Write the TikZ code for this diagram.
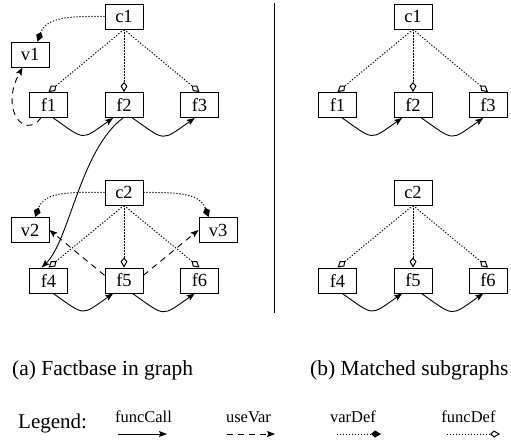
\documentclass[tikz,border=0pt]{standalone}
\usepackage{fontspec}
\setmainfont{Liberation Serif}
\usetikzlibrary{arrows.meta}
\begin{document}
\begin{tikzpicture}[x=1pt,y=1pt,
  box/.style={draw, line width=0.9pt, minimum width=38pt, minimum height=25pt,
    inner sep=0pt, font=\fontsize{18.5}{20}\selectfont},
  funccall/.style={line width=0.9pt, -{Stealth[length=8pt,width=6pt,inset=1.5pt]}},
  usevar/.style={line width=0.9pt, dash pattern=on 6pt off 5pt,
    -{Stealth[length=8pt,width=6pt,inset=1.5pt]}},
  vardef/.style={line width=1pt, dash pattern=on 1.2pt off 1.8pt,
    -{Kite[length=10pt,width=7pt,inset=4pt]}},
  funcdef/.style={line width=1pt, dash pattern=on 1.2pt off 1.8pt,
    -{Kite[open,length=10pt,width=7pt,inset=4pt]}},
  caption/.style={anchor=base west, inner sep=0pt, font=\fontsize{21.5}{24}\selectfont},
  legendlabel/.style={anchor=base, inner sep=0pt, font=\fontsize{16.5}{18}\selectfont},
]
\fill[white] (0,0) rectangle (511,-442);
\useasboundingbox (0,0) rectangle (511,-442);

% ---- (a) factbase graph ----
\node[box] (c1) at (124,-16.5) {c1};
\node[box] (v1) at (30,-54.5) {v1};
\node[box] (f1) at (48.5,-105) {f1};
\node[box] (f2) at (124,-105) {f2};
\node[box] (f3) at (199.5,-105) {f3};
\node[box] (c2) at (124,-192.5) {c2};
\node[box] (v2) at (30,-230) {v2};
\node[box] (v3) at (218,-230) {v3};
\node[box] (f4) at (48.5,-280.5) {f4};
\node[box] (f5) at (124,-280.5) {f5};
\node[box] (f6) at (199.5,-280.5) {f6};

\draw[vardef] (c1.west) to[out=180,in=70] (v1.60);
\draw[funcdef] (c1.south) -- (f1.north);
\draw[funcdef] (c1.south) -- (f2.north);
\draw[funcdef] (c1.south) -- (f3.north);
\draw[usevar] (f1.240) .. controls +(-17,-22) and +(-23,-42) .. (v1.240);
\draw[funccall] (f1.-70) to[out=-35,in=-145,looseness=1.7] (f2.-130);
\draw[funccall] (f2.-57) to[out=-35,in=-145,looseness=1.7] (f3.-110);
\draw[funccall] (f2.-94) .. controls +(-43,-32) and +(28,27) .. (f4.118);

\draw[vardef] (c2.west) to[out=180,in=70] (v2.68);
\draw[vardef] (c2.east) to[out=0,in=110] (v3.126);
\draw[funcdef] (c2.south) -- (f4.north);
\draw[funcdef] (c2.south) -- (f5.north);
\draw[funcdef] (c2.south) -- (f6.north);
\draw[usevar] (f5.165) -- (v2.east);
\draw[usevar] (f5.15) -- (v3.west);
\draw[funccall] (f4.-70) to[out=-35,in=-145,looseness=1.7] (f5.-130);
\draw[funccall] (f5.-57) to[out=-35,in=-145,looseness=1.7] (f6.-110);

% ---- divider ----
\draw[line width=0.9pt] (274,-3) -- (274,-313);

% ---- (b) matched subgraphs ----
\node[box] (rc1) at (413,-16.5) {c1};
\node[box] (rf1) at (337.5,-105) {f1};
\node[box] (rf2) at (413,-105) {f2};
\node[box] (rf3) at (488,-105) {f3};
\node[box] (rc2) at (413,-192.5) {c2};
\node[box] (rf4) at (337.5,-280.5) {f4};
\node[box] (rf5) at (413,-280.5) {f5};
\node[box] (rf6) at (488,-280.5) {f6};

\draw[funcdef] (rc1.south) -- (rf1.north);
\draw[funcdef] (rc1.south) -- (rf2.north);
\draw[funcdef] (rc1.south) -- (rf3.north);
\draw[funccall] (rf1.-70) to[out=-35,in=-145,looseness=1.7] (rf2.-130);
\draw[funccall] (rf2.-57) to[out=-35,in=-145,looseness=1.7] (rf3.-110);

\draw[funcdef] (rc2.south) -- (rf4.north);
\draw[funcdef] (rc2.south) -- (rf5.north);
\draw[funcdef] (rc2.south) -- (rf6.north);
\draw[funccall] (rf4.-70) to[out=-35,in=-145,looseness=1.7] (rf5.-130);
\draw[funccall] (rf5.-57) to[out=-35,in=-145,looseness=1.7] (rf6.-110);

% ---- captions ----
\node[caption] (capa) at (12,-375) {(a) Factbase in graph};
\node[caption] (capb) at (310,-375) {(b) Matched subgraphs};

% ---- legend ----
\node[caption, font=\fontsize{21}{24}\selectfont] (leg) at (18,-428) {Legend:};
\node[legendlabel] (lcall) at (143.5,-422) {funcCall};
\node[legendlabel] (luse) at (248.5,-422) {useVar};
\node[legendlabel] (lvar) at (353,-422) {varDef};
\node[legendlabel] (lfdef) at (468.5,-422) {funcDef};
\coordinate (a1) at (118,-434);  \coordinate (b1) at (167,-434);
\coordinate (a2) at (227,-434);  \coordinate (b2) at (275,-434);
\coordinate (a3) at (337,-434);  \coordinate (b3) at (381,-434);
\coordinate (a4) at (447,-434);  \coordinate (b4) at (500,-434);
\draw[funccall] (a1) -- (b1);
\draw[usevar] (a2) -- (b2);
\draw[vardef] (a3) -- (b3);
\draw[funcdef] (a4) -- (b4);
\end{tikzpicture}
\end{document}
